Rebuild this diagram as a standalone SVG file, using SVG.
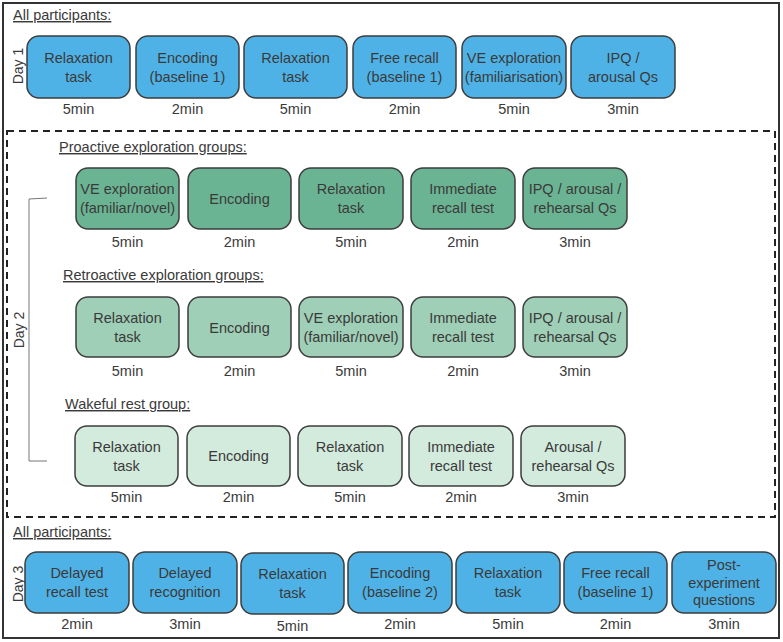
<svg xmlns="http://www.w3.org/2000/svg" width="783" height="642" viewBox="0 0 783 642">
<style>
text{font-family:"Liberation Sans",Arial,sans-serif;fill:#3a3a3a;}
.t{font-size:14.5px;text-anchor:middle;}
.m{font-size:14.5px;text-anchor:middle;}
.h{font-size:14.5px;text-decoration:underline;}
.d{font-size:14px;text-anchor:middle;}
.b{stroke:#3d3d3d;stroke-width:1.5;}
.blue{fill:#4fb2e6;}
.g1{fill:#6bb493;}
.g2{fill:#9fcfb6;}
.g3{fill:#d3ebdd;}
</style>
<rect width="783" height="642" fill="#ffffff"/>
<rect x="3" y="3" width="776" height="635" fill="none" stroke="#333333" stroke-width="2"/>
<rect x="7" y="131" width="768" height="386" fill="none" stroke="#222222" stroke-width="2" stroke-dasharray="7 5"/>

<g id="labels">
<text class="h" x="13" y="20">All participants:</text>
<text class="h" x="59" y="152">Proactive exploration groups:</text>
<text class="h" x="63" y="280">Retroactive exploration groups:</text>
<text class="h" x="65" y="409">Wakeful rest group:</text>
<text class="h" x="13" y="537">All participants:</text>
<text class="d" transform="translate(23,66) rotate(-90)">Day 1</text>
<text class="d" transform="translate(24,330) rotate(-90)">Day 2</text>
<text class="d" transform="translate(23,584) rotate(-90)">Day 3</text>
</g>

<g id="connectors">
<path d="M47,198 L29,199 L29,461 L47,461" fill="none" stroke="#777777" stroke-width="1"/>
</g>

<!-- Day 1 -->
<g id="d1n1"><rect class="b blue" x="27" y="36" width="103" height="62" rx="12"/><text class="t" x="78.5" y="63">Relaxation</text><text class="t" x="78.5" y="82">task</text><text class="m" x="78.5" y="114">5min</text></g>
<g id="d1n2"><rect class="b blue" x="136" y="36" width="103" height="62" rx="12"/><text class="t" x="187.5" y="63">Encoding</text><text class="t" x="187.5" y="82">(baseline 1)</text><text class="m" x="187.5" y="114">2min</text></g>
<g id="d1n3"><rect class="b blue" x="244" y="36" width="103" height="62" rx="12"/><text class="t" x="295.5" y="63">Relaxation</text><text class="t" x="295.5" y="82">task</text><text class="m" x="295.5" y="114">5min</text></g>
<g id="d1n4"><rect class="b blue" x="353" y="36" width="103" height="62" rx="12"/><text class="t" x="404.5" y="63">Free recall</text><text class="t" x="404.5" y="82">(baseline 1)</text><text class="m" x="404.5" y="114">2min</text></g>
<g id="d1n5"><rect class="b blue" x="462" y="36" width="104" height="62" rx="12"/><text class="t" x="514" y="63">VE exploration</text><text class="t" x="514" y="82">(familiarisation)</text><text class="m" x="514" y="114">5min</text></g>
<g id="d1n6"><rect class="b blue" x="571" y="36" width="104" height="62" rx="12"/><text class="t" x="623" y="63">IPQ /</text><text class="t" x="623" y="82">arousal Qs</text><text class="m" x="623" y="114">3min</text></g>

<!-- Proactive -->
<g id="p1"><rect class="b g1" x="76" y="168" width="103" height="61" rx="12"/><text class="t" x="127.5" y="194">VE exploration</text><text class="t" x="127.5" y="213">(familiar/novel)</text><text class="m" x="127.5" y="247">5min</text></g>
<g id="p2"><rect class="b g1" x="188" y="168" width="103" height="61" rx="12"/><text class="t" x="239.5" y="204">Encoding</text><text class="m" x="239.5" y="247">2min</text></g>
<g id="p3"><rect class="b g1" x="299" y="168" width="104" height="61" rx="12"/><text class="t" x="351" y="194">Relaxation</text><text class="t" x="351" y="213">task</text><text class="m" x="351" y="247">5min</text></g>
<g id="p4"><rect class="b g1" x="411" y="168" width="104" height="61" rx="12"/><text class="t" x="463" y="194">Immediate</text><text class="t" x="463" y="213">recall test</text><text class="m" x="463" y="247">2min</text></g>
<g id="p5"><rect class="b g1" x="523" y="168" width="104" height="61" rx="12"/><text class="t" x="575" y="194">IPQ / arousal /</text><text class="t" x="575" y="213">rehearsal Qs</text><text class="m" x="575" y="247">3min</text></g>

<!-- Retroactive -->
<g id="r1"><rect class="b g2" x="76" y="297" width="103" height="60" rx="12"/><text class="t" x="127.5" y="323">Relaxation</text><text class="t" x="127.5" y="342">task</text><text class="m" x="127.5" y="376">5min</text></g>
<g id="r2"><rect class="b g2" x="188" y="297" width="103" height="60" rx="12"/><text class="t" x="239.5" y="333">Encoding</text><text class="m" x="239.5" y="376">2min</text></g>
<g id="r3"><rect class="b g2" x="299" y="297" width="104" height="60" rx="12"/><text class="t" x="351" y="323">VE exploration</text><text class="t" x="351" y="342">(familiar/novel)</text><text class="m" x="351" y="376">5min</text></g>
<g id="r4"><rect class="b g2" x="411" y="297" width="104" height="60" rx="12"/><text class="t" x="463" y="323">Immediate</text><text class="t" x="463" y="342">recall test</text><text class="m" x="463" y="376">2min</text></g>
<g id="r5"><rect class="b g2" x="523" y="297" width="104" height="60" rx="12"/><text class="t" x="575" y="323">IPQ / arousal /</text><text class="t" x="575" y="342">rehearsal Qs</text><text class="m" x="575" y="376">3min</text></g>

<!-- Wakeful rest -->
<g id="w1"><rect class="b g3" x="75" y="426" width="103" height="60" rx="12"/><text class="t" x="126.5" y="452">Relaxation</text><text class="t" x="126.5" y="471">task</text><text class="m" x="126.5" y="502">5min</text></g>
<g id="w2"><rect class="b g3" x="187" y="426" width="103" height="60" rx="12"/><text class="t" x="238.5" y="461">Encoding</text><text class="m" x="238.5" y="502">2min</text></g>
<g id="w3"><rect class="b g3" x="298" y="426" width="104" height="60" rx="12"/><text class="t" x="350" y="452">Relaxation</text><text class="t" x="350" y="471">task</text><text class="m" x="350" y="502">5min</text></g>
<g id="w4"><rect class="b g3" x="409" y="426" width="104" height="60" rx="12"/><text class="t" x="461" y="452">Immediate</text><text class="t" x="461" y="471">recall test</text><text class="m" x="461" y="502">2min</text></g>
<g id="w5"><rect class="b g3" x="521" y="426" width="104" height="60" rx="12"/><text class="t" x="573" y="452">Arousal /</text><text class="t" x="573" y="471">rehearsal Qs</text><text class="m" x="573" y="502">3min</text></g>

<!-- Day 3 -->
<g id="d3n1"><rect class="b blue" x="25" y="552" width="104" height="61" rx="12"/><text class="t" x="77" y="578">Delayed</text><text class="t" x="77" y="597">recall test</text><text class="m" x="77" y="629">2min</text></g>
<g id="d3n2"><rect class="b blue" x="133" y="552" width="104" height="61" rx="12"/><text class="t" x="185" y="578">Delayed</text><text class="t" x="185" y="597">recognition</text><text class="m" x="185" y="629">3min</text></g>
<g id="d3n3"><rect class="b blue" x="241" y="553" width="103" height="61" rx="12"/><text class="t" x="292.5" y="579">Relaxation</text><text class="t" x="292.5" y="598">task</text><text class="m" x="292.5" y="631">5min</text></g>
<g id="d3n4"><rect class="b blue" x="348" y="552" width="104" height="61" rx="12"/><text class="t" x="400" y="578">Encoding</text><text class="t" x="400" y="597">(baseline 2)</text><text class="m" x="400" y="629">2min</text></g>
<g id="d3n5"><rect class="b blue" x="456" y="552" width="104" height="61" rx="12"/><text class="t" x="508" y="578">Relaxation</text><text class="t" x="508" y="597">task</text><text class="m" x="508" y="629">5min</text></g>
<g id="d3n6"><rect class="b blue" x="564" y="552" width="103" height="61" rx="12"/><text class="t" x="615.5" y="578">Free recall</text><text class="t" x="615.5" y="597">(baseline 1)</text><text class="m" x="615.5" y="629">2min</text></g>
<g id="d3n7"><rect class="b blue" x="672" y="552" width="104" height="61" rx="12"/><text class="t" x="724" y="570">Post-</text><text class="t" x="724" y="588">experiment</text><text class="t" x="724" y="605">questions</text><text class="m" x="724" y="629">3min</text></g>
</svg>
